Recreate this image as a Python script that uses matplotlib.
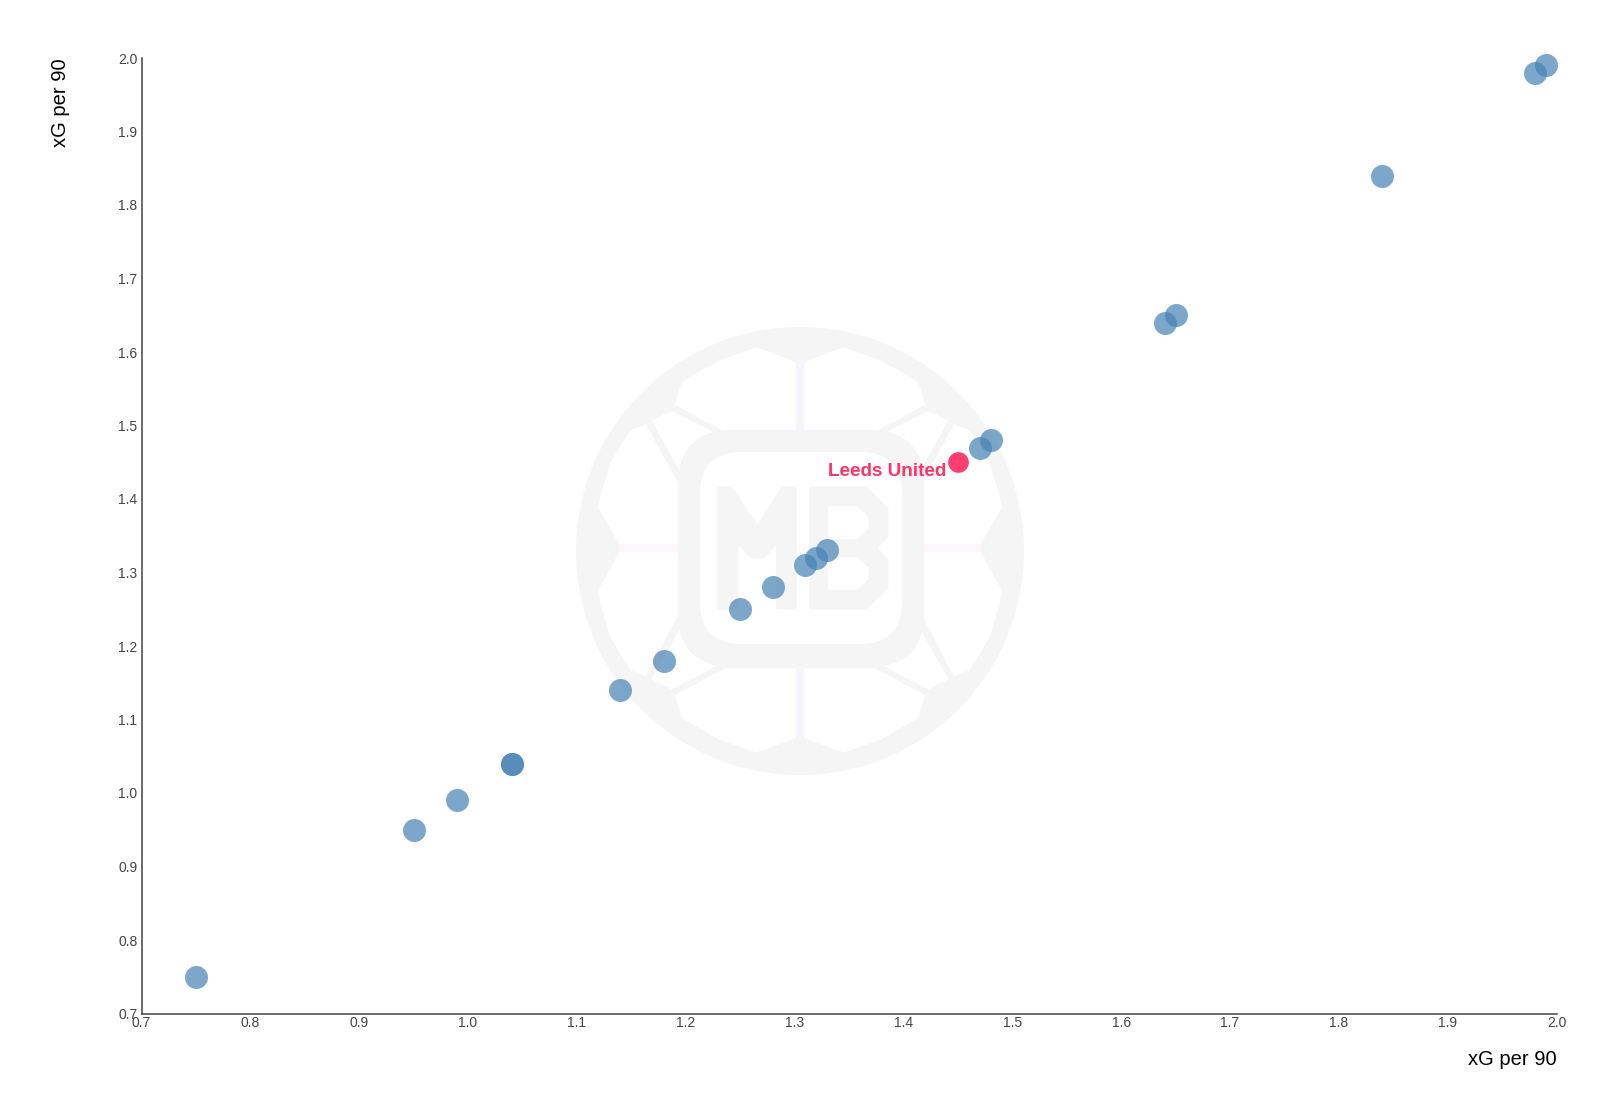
import matplotlib
matplotlib.use('Agg')
import matplotlib.pyplot as plt
from matplotlib.patches import Circle, Polygon, Rectangle, FancyBboxPatch
from matplotlib.ticker import MultipleLocator

plt.rcParams['font.family'] = ['Liberation Sans', 'DejaVu Sans']

# values
xg_x = [0.75, 0.95, 0.99, 1.04, 1.04, 1.14, 1.18, 1.25, 1.28, 1.31, 1.32, 1.33, 1.47, 1.48, 1.64, 1.65, 1.84, 1.98, 1.99]
xg_y = [0.75, 0.95, 0.99, 1.04, 1.04, 1.14, 1.18, 1.25, 1.28, 1.31, 1.32, 1.33, 1.47, 1.48, 1.64, 1.65, 1.84, 1.98, 1.99]
leeds_x = [1.45]
leeds_y = [1.45]
leeds_label = 'Leeds United'
axis_label = 'xG per 90'

W, H = 1600, 1102
GREY = '#f5f5f5'


def px(points):
    # watermark outline was measured on a 3x crop starting at (560, 320)
    return [(560 + a / 3, 320 + b / 3) for a, b in points]


def rounded(bg, points, color):
    # thick round-joined edge softens the corners of the letters
    bg.add_patch(Polygon(px(points), fc=color, ec=color, lw=3, joinstyle='round'))


def draw_watermark(bg):
    bg.add_patch(Circle((800, 551), 224, fc=GREY, ec='none'))

    top = [(590, 82), (480, 120), (365, 185), (345, 255), (495, 335), (708, 335), (708, 125)]
    small = [(275, 302), (335, 272), (475, 345), (420, 385), (365, 465)]
    side = [(210, 332), (258, 312), (355, 490), (355, 672), (178, 672), (112, 560), (150, 430)]
    side_low = [(210, 1050), (258, 1070), (355, 885), (355, 695), (178, 695), (112, 815), (150, 950)]

    for shape in (top, small, side):
        bg.add_patch(Polygon(px(shape), fc='white', ec='none'))
        bg.add_patch(Polygon(px([(1440 - a, b) for a, b in shape]), fc='white', ec='none'))
    for shape in (top, small):
        bg.add_patch(Polygon(px([(a, 1380 - b) for a, b in shape]), fc='white', ec='none'))
        bg.add_patch(Polygon(px([(1440 - a, 1380 - b) for a, b in shape]), fc='white', ec='none'))
    bg.add_patch(Polygon(px(side_low), fc='white', ec='none'))
    bg.add_patch(Polygon(px([(1440 - a, b) for a, b in side_low]), fc='white', ec='none'))

    # faint spokes
    bg.add_patch(Rectangle((796, 360), 8, 72, fc='#f5f6fc', ec='none'))
    bg.add_patch(Rectangle((796, 666), 8, 72, fc='#f5f6fc', ec='none'))
    bg.add_patch(Rectangle((619, 544), 60, 7, fc='#fdf6fa', ec='none'))
    bg.add_patch(Rectangle((921, 544), 60, 7, fc='#fdf6fa', ec='none'))

    # rounded badge
    bg.add_patch(FancyBboxPatch((678 + 55, 430 + 55), 246 - 110, 237 - 110,
                                boxstyle='round,pad=55,rounding_size=55', fc=GREY, ec='none'))
    bg.add_patch(FancyBboxPatch((700 + 42, 452 + 42), 202 - 84, 192 - 84,
                                boxstyle='round,pad=42,rounding_size=42', fc='white', ec='none'))

    # letters
    m = [(476, 506), (512, 506), (592, 626), (668, 506), (704, 506), (704, 862),
         (654, 862), (654, 660), (610, 709), (575, 709), (529, 660), (529, 862), (476, 862)]
    b = [(754, 506), (918, 506), (979, 567), (979, 648), (944, 685), (979, 722), (979, 803), (918, 862), (754, 862)]
    hole1 = [(804, 559), (892, 559), (926, 593), (926, 627), (892, 658), (804, 658)]
    hole2 = [(804, 712), (892, 712), (926, 743), (926, 777), (892, 809), (804, 809)]
    rounded(bg, m, GREY)
    rounded(bg, b, GREY)
    bg.add_patch(Polygon(px(hole1), fc='white', ec='none'))
    bg.add_patch(Polygon(px(hole2), fc='white', ec='none'))


fig = plt.figure(figsize=(16, 11.02), dpi=100)

bg = fig.add_axes([0, 0, 1, 1], zorder=0)
bg.set_xlim(0, W)
bg.set_ylim(H, 0)
bg.axis('off')
draw_watermark(bg)

ax = fig.add_axes([141.5 / W, 1 - 1013.5 / H, (1556.5 - 141.5) / W, (1013.5 - 58) / H], zorder=1)
ax.patch.set_alpha(0)
ax.scatter(xg_x, xg_y, s=274, color='#4682b4', alpha=0.7, linewidths=0, clip_on=False, zorder=3)
ax.scatter(leeds_x, leeds_y, s=222, color='#ff3366', alpha=0.95, linewidths=0, clip_on=False, zorder=4)
ax.annotate(leeds_label, (leeds_x[0], leeds_y[0]), xytext=(-8, -6.5), textcoords='offset points',
            ha='right', va='center', color='#ff3366', fontsize=13.6, fontweight='bold', zorder=5)

ax.set_xlim(0.7, 2.0)
ax.set_ylim(0.7, 2.0)
ax.xaxis.set_major_locator(MultipleLocator(0.1))
ax.yaxis.set_major_locator(MultipleLocator(0.1))
ax.tick_params(length=0, labelsize=10, labelcolor='#444444')
ax.tick_params(axis='x', pad=2)
ax.tick_params(axis='y', pad=3)

for side_name in ('top', 'right'):
    ax.spines[side_name].set_visible(False)
for side_name in ('left', 'bottom'):
    ax.spines[side_name].set_color('#444444')
    ax.spines[side_name].set_linewidth(1.1)

ax.set_xlabel(axis_label, loc='right', fontsize=14.5, color='black', labelpad=14)
ax.set_ylabel(axis_label, loc='top', fontsize=14.5, color='black', labelpad=34.5)

fig.savefig('out.png', dpi=100, facecolor='white')
